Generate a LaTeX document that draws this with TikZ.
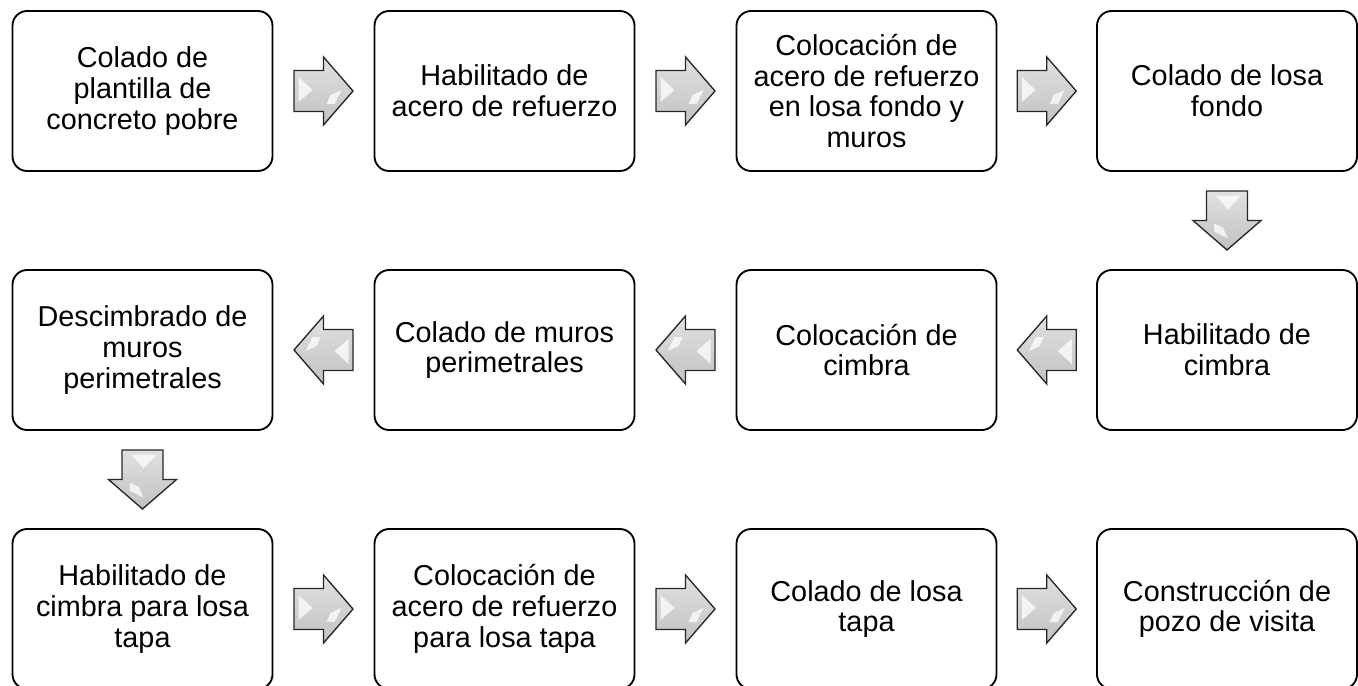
\documentclass[tikz,border=0pt]{standalone}
\usepackage{fontspec}
\setmainfont{Liberation Sans}
\usetikzlibrary{calc}
\begin{document}
\begin{tikzpicture}[x=0.75pt,y=-0.75pt,
  box/.style={draw=black, line width=1.4pt, rounded corners=11pt,
    minimum width=195pt, minimum height=120pt, inner sep=0pt,
    align=center, font=\fontsize{21.6}{23}\selectfont},
  barrow/.pic={
    \path[draw=black!85, line width=1pt, line join=miter, top color=black!12, bottom color=black!24]
      (-29.5,-20.5) -- (0,-20.5) -- (0,-34) -- (29.5,0) -- (0,34) -- (0,20.5) -- (-29.5,20.5) -- cycle;
    \fill[white,opacity=0.75] (-25,-14) -- (-11,-1) -- (-25,11) -- cycle;
    \fill[white,opacity=0.75] (18,-1) -- (11,13) -- (3,13) -- (7,4) -- cycle;
  }]
\useasboundingbox (0,0) rectangle (1358,685);
% row 1
\node[box] (n1) at (142.5,91) {Colado de\\plantilla de\\concreto pobre};
\node[box] (n2) at (504.5,91) {Habilitado de\\acero de refuerzo};
\node[box] (n3) at (866.5,91) {Colocación de\\acero de refuerzo\\en losa fondo y\\muros};
\node[box] (n4) at (1227,91) {Colado de losa\\fondo};
% row 2
\node[box] (n5) at (1227,350) {Habilitado de\\cimbra};
\node[box] (n6) at (866.5,350) {Colocación de\\cimbra};
\node[box] (n7) at (504.5,350) {Colado de muros\\perimetrales};
\node[box] (n8) at (142.5,350) {Descimbrado de\\muros\\perimetrales};
% row 3
\node[box] (n9) at (142.5,609) {Habilitado de\\cimbra para losa\\tapa};
\node[box] (n10) at (504.5,609) {Colocación de\\acero de refuerzo\\para losa tapa};
\node[box] (n11) at (866.5,609) {Colado de losa\\tapa};
\node[box] (n12) at (1227,609) {Construcción de\\pozo de visita};
% arrows
\pic at ($(n1.east)!0.5!(n2.west)$) {barrow};
\pic at ($(n2.east)!0.5!(n3.west)$) {barrow};
\pic at ($(n3.east)!0.5!(n4.west)$) {barrow};
\pic[rotate=-90] at ($(n4.south)!0.5!(n5.north)$) {barrow};
\pic[rotate=180] at ($(n5.west)!0.5!(n6.east)$) {barrow};
\pic[rotate=180] at ($(n6.west)!0.5!(n7.east)$) {barrow};
\pic[rotate=180] at ($(n7.west)!0.5!(n8.east)$) {barrow};
\pic[rotate=-90] at ($(n8.south)!0.5!(n9.north)$) {barrow};
\pic at ($(n9.east)!0.5!(n10.west)$) {barrow};
\pic at ($(n10.east)!0.5!(n11.west)$) {barrow};
\pic at ($(n11.east)!0.5!(n12.west)$) {barrow};
\end{tikzpicture}
\end{document}
